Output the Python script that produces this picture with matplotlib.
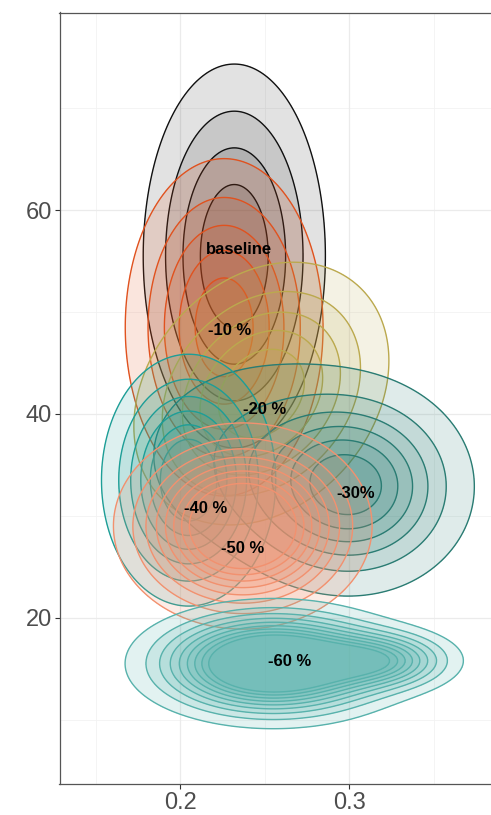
import numpy as np
import matplotlib
matplotlib.use("Agg")
import matplotlib.pyplot as plt

plt.rcParams['font.family'] = ['Liberation Sans', 'DejaVu Sans']

# ---- data ----
groups = ["baseline", "-10 %", "-20 %", "-30%", "-40 %", "-50 %", "-60 %"]
colors = ["#111111", "#E0521F", "#BBA94E", "#2A7C73", "#1E9E97", "#F2916F", "#58B2AC"]
label_x = [0.2349, 0.2295, 0.2502, 0.3035, 0.2148, 0.2371, 0.2644]
label_y = [56.1, 48.2, 40.4, 32.2, 30.7, 26.8, 15.7]

# density model components per group: (group index, mean x, mean y, sd x, sd y, corr, weight)
comp_group = [0, 1, 2, 3, 3, 4, 5, 6, 6]
comp_mx = [0.232, 0.226, 0.248, 0.302, 0.245, 0.205, 0.237, 0.255, 0.318]
comp_my = [55.5, 48.5, 42.0, 32.8, 36.0, 33.5, 29.0, 15.5, 15.8]
comp_sx = [0.030, 0.030, 0.038, 0.034, 0.045, 0.025, 0.034, 0.037, 0.024]
comp_sy = [10.5, 8.5, 6.5, 5.0, 6.0, 6.0, 4.5, 2.7, 1.6]
comp_rho = [0.0, 0.0, 0.25, 0.0, 0.0, 0.0, 0.0, 0.0, 0.0]
comp_w = [1.0, 1.0, 1.0, 0.7, 0.3, 1.0, 1.0, 0.86, 0.14]
n_levels = [4, 5, 5, 6, 6, 8, 9]
level_lo = [0.2, 0.15, 0.14, 0.10, 0.12, 0.08, 0.06]
level_hi = [0.8, 0.85, 0.80, 0.85, 0.80, 0.65, 0.58]

x_major = [0.2, 0.3]
x_minor = [0.15, 0.25, 0.35]
y_major = [20, 40, 60]
y_minor = [10, 30, 50, 70]

# ---- figure ----
fig = plt.figure(figsize=(4.91, 8.15), dpi=100)
ax = fig.add_axes([59.5 / 491, 31 / 815, 1 - 59.5 / 491, (784 - 12.5) / 815])
ax.set_xlim(0.1287, 0.3837)
ax.set_ylim(3.68, 79.4)

for v in x_minor:
    ax.axvline(v, color="#F2F2F2", lw=0.6, zorder=0)
for v in y_minor:
    ax.axhline(v, color="#F2F2F2", lw=0.6, zorder=0)
for v in x_major:
    ax.axvline(v, color="#EBEBEB", lw=0.9, zorder=0)
for v in y_major:
    ax.axhline(v, color="#EBEBEB", lw=0.9, zorder=0)

gx = np.linspace(0.11, 0.41, 360)
gy = np.linspace(0, 85, 360)
X, Y = np.meshgrid(gx, gy)


def gauss(mx, my, sx, sy, rho):
    dx = (X - mx) / sx
    dy = (Y - my) / sy
    q = (dx * dx - 2 * rho * dx * dy + dy * dy) / (1 - rho * rho)
    return np.exp(-0.5 * q) / (2 * np.pi * sx * sy * np.sqrt(1 - rho * rho))


for gi, name in enumerate(groups):
    Z = np.zeros_like(X)
    for ci, g in enumerate(comp_group):
        if g == gi:
            Z += comp_w[ci] * gauss(comp_mx[ci], comp_my[ci], comp_sx[ci],
                                    comp_sy[ci], comp_rho[ci])
    zmax = Z.max()
    levels = zmax * np.linspace(level_lo[gi], level_hi[gi], n_levels[gi])
    alpha = 0.12 if gi == 0 else (0.17 if gi in (5, 6) else 0.15)
    for lev in levels:
        ax.contourf(X, Y, Z, levels=[lev, zmax * 1.01], colors=[colors[gi]],
                    alpha=alpha, zorder=2 + gi)
    ax.contour(X, Y, Z, levels=levels, colors=[colors[gi]], linewidths=1.0,
               zorder=2.5 + gi)

for gi, name in enumerate(groups):
    ax.text(label_x[gi], label_y[gi], name, ha="center", va="center",
            fontsize=12, fontweight="bold", color="black", zorder=20)

ax.set_xticks(x_major)
ax.set_xticklabels(["0.2", "0.3"])
ax.set_yticks(y_major)
ax.set_yticklabels(["20", "40", "60"])
ax.tick_params(axis="both", length=3.5, width=0.8, color="#333333",
               labelsize=17, labelcolor="#4D4D4D", pad=2)
for s in ["left", "bottom", "top"]:
    ax.spines[s].set_color("#555555")
    ax.spines[s].set_linewidth(0.9)
ax.spines["right"].set_visible(False)

fig.savefig("out.png", dpi=100)
